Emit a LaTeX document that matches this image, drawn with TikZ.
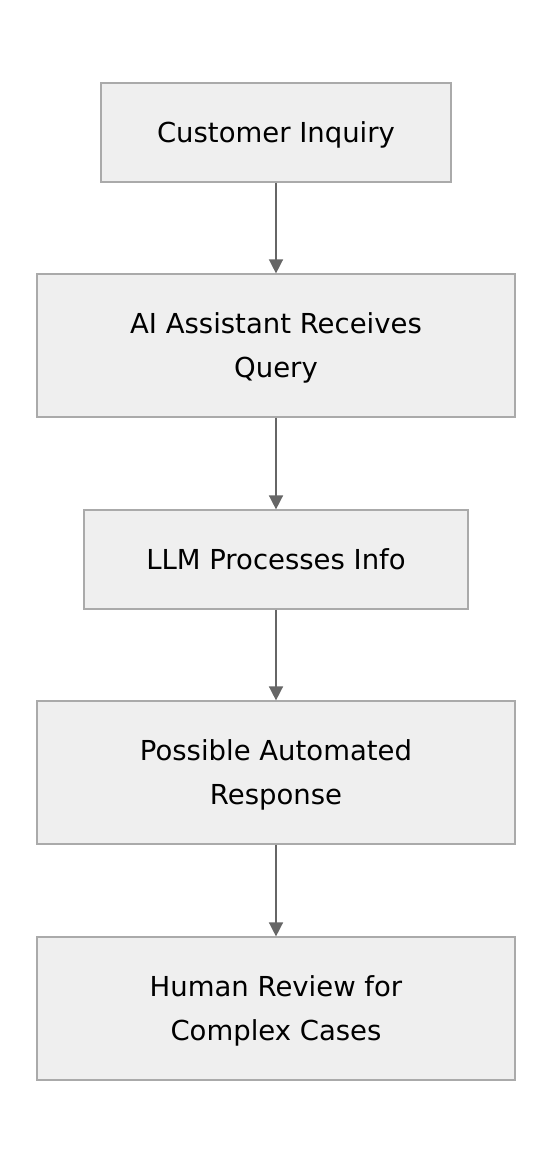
\documentclass[tikz,border=0pt]{standalone}
\usepackage{fontspec}
\setmainfont{DejaVu Sans}
\usetikzlibrary{arrows.meta}
\definecolor{boxfill}{HTML}{EFEFEF}
\definecolor{boxline}{HTML}{AAAAAA}
\definecolor{arrowgray}{HTML}{666666}
\tikzset{
    stepbox/.style={draw=boxline, fill=boxfill, line width=1.2pt, align=center,
        font=\fontsize{27.5}{44}\selectfont, inner sep=0pt, text depth=0pt},
    flow/.style={draw=arrowgray, line width=1.5pt, -{Triangle[length=14pt,width=14pt]}}
}
\begin{document}
\begin{tikzpicture}[x=1pt,y=-1pt]
    \useasboundingbox (0,0) rectangle (552,1164);
    \node[stepbox, minimum width=350pt, minimum height=99pt] (inquiry) at (276,132.5) {Customer Inquiry};
    \node[stepbox, minimum width=478pt, minimum height=143pt] (receive) at (276,345.5) {AI Assistant Receives\\Query};
    \node[stepbox, minimum width=384pt, minimum height=99pt] (process) at (276,559.5) {LLM Processes Info};
    \node[stepbox, minimum width=478pt, minimum height=143pt] (respond) at (276,772.5) {Possible Automated\\Response};
    \node[stepbox, minimum width=478pt, minimum height=143pt] (review) at (276,1008.5) {Human Review for\\Complex Cases};
    \draw[flow] (inquiry) -- (receive);
    \draw[flow] (receive) -- (process);
    \draw[flow] (process) -- (respond);
    \draw[flow] (respond) -- (review);
\end{tikzpicture}
\end{document}
